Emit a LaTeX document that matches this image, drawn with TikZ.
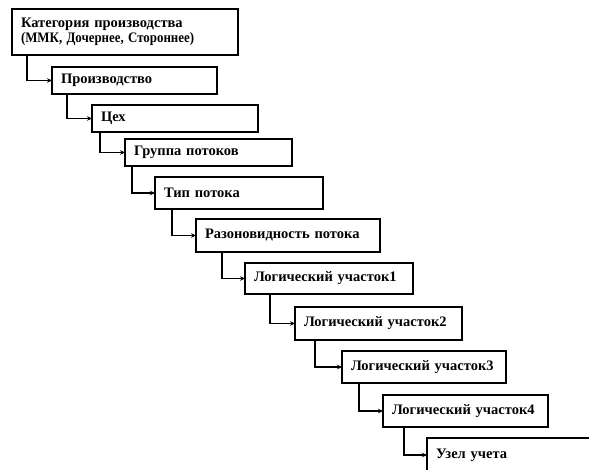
\documentclass[tikz,border=0pt]{standalone}
\usepackage{fontspec}
\usepackage{graphicx}
\setmainfont{Liberation Serif}
\usetikzlibrary{arrows.meta}
\tikzset{
  boxst/.style={draw, line width=1.3pt, anchor=north west, inner xsep=9pt, inner ysep=0pt,
    outer sep=0pt, align=left, font=\bfseries\fontsize{14.5}{15.5}\selectfont},
  conn/.style={line width=1.1pt, -{Stealth[length=5pt,width=4.5pt]}}
}
\begin{document}
\begin{tikzpicture}[x=1pt,y=-1pt]
\useasboundingbox (0,0) rectangle (589,470);
\clip (0,0) rectangle (589,470);
\node[boxst, text width=208pt, minimum height=46pt] (b1) at (12,9) {Категория производства\\\scalebox{0.89}[1]{(ММК, Дочернее, Стороннее)}};
\node[boxst, text width=147pt, minimum height=27pt] (b2) at (52,67) {Производство};
\node[boxst, text width=148pt, minimum height=27pt] (b3) at (92,105) {Цех};
\node[boxst, text width=149pt, minimum height=27pt] (b4) at (125,139) {Группа потоков};
\node[boxst, text width=150pt, minimum height=32pt] (b5) at (155,177) {Тип потока};
\node[boxst, text width=166pt, minimum height=33pt] (b6) at (196,219) {Разоновидность потока};
\node[boxst, text width=150pt, minimum height=31pt] (b7) at (245,263) {Логический участок1};
\node[boxst, text width=149pt, minimum height=33pt] (b8) at (295,307) {Логический участок2};
\node[boxst, text width=146pt, minimum height=32pt] (b9) at (342,351) {Логический участок3};
\node[boxst, text width=147pt, minimum height=32pt] (b10) at (383,395) {Логический участок4};
\node[boxst, text width=200pt, minimum height=34pt] (b11) at (427,438) {Узел учета};
\draw[conn] ([xshift=15pt]b1.south west) |- (b2.west);
\draw[conn] ([xshift=15pt]b2.south west) |- (b3.west);
\draw[conn] ([xshift=8pt]b3.south west) |- (b4.west);
\draw[conn] ([xshift=7pt]b4.south west) |- (b5.west);
\draw[conn] ([xshift=17pt]b5.south west) |- (b6.west);
\draw[conn] ([xshift=26pt]b6.south west) |- (b7.west);
\draw[conn] ([xshift=25pt]b7.south west) |- (b8.west);
\draw[conn] ([xshift=20pt]b8.south west) |- (b9.west);
\draw[conn] ([xshift=17pt]b9.south west) |- (b10.west);
\draw[conn] ([xshift=21pt]b10.south west) |- (b11.west);
\end{tikzpicture}
\end{document}
